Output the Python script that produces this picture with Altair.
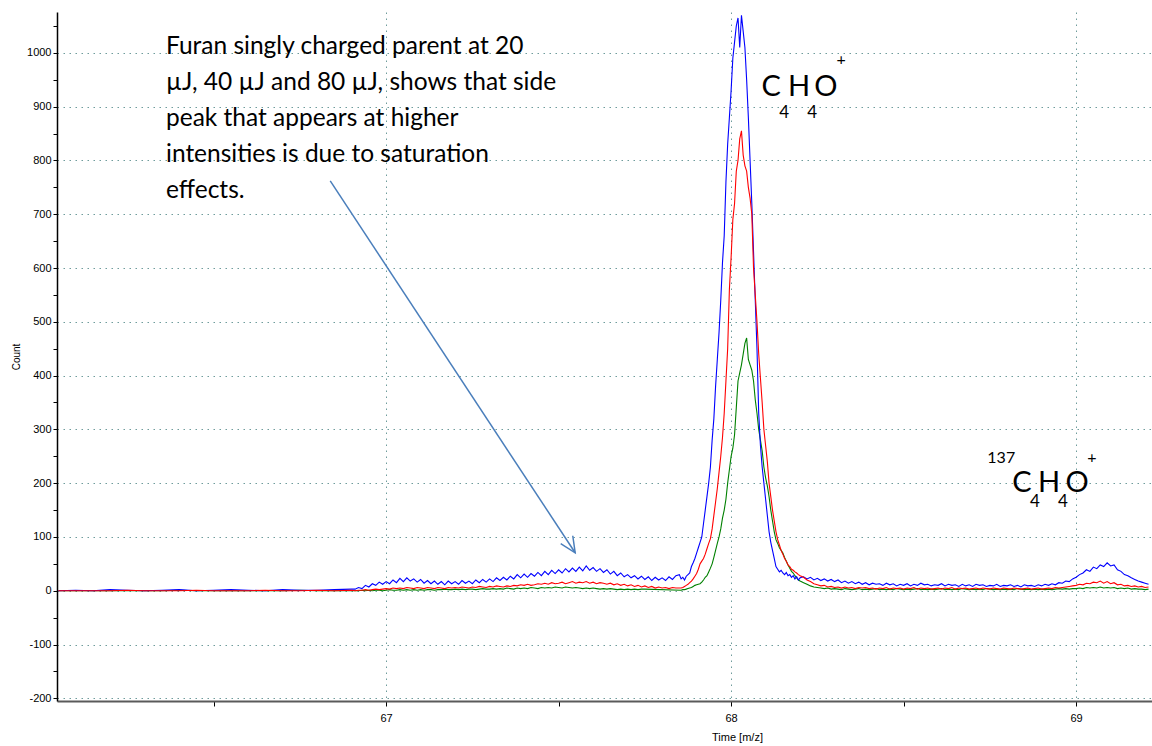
import altair as alt
import pandas as pd

# ---------------- data ----------------
# sampling grids (start m/z, step) of four regions
R1_START, R1_STEP = 66.05, 0.05
R2_START, R2_STEP = 66.91, 0.01
R3_START, R3_STEP = 67.855, 0.005
R4_START, R4_STEP = 68.21, 0.01

# 80 uJ (blue)
BLUE_R1 = [0, 1, 0, 2, 1, 0, 1, 2, 0, 1, 2, 1, 0, 2, 1, 1, 2, 3]
BLUE_R2 = [3, 6, 4, 10, 7, 13, 10, 16, 12,
           17, 13, 20, 15, 23, 17, 24, 18, 22, 16,
           21, 14, 19, 13, 18, 12, 17, 11, 18, 13,
           17, 12, 19, 14, 18, 13, 20, 15, 21, 16,
           22, 17, 24, 19, 25, 20, 27, 22, 30, 24,
           31, 25, 32, 27, 34, 28, 36, 30, 38, 32,
           39, 33, 41, 35, 42, 36, 44, 37, 46, 38,
           43, 36, 41, 34, 39, 31, 36, 28, 33, 26,
           30, 24, 28, 22, 27, 21, 26, 19, 25, 20,
           24, 19, 26, 21, 28, 30]
BLUE_R3 = [22, 25, 20, 27, 30, 33, 45, 52, 60, 70,
           80, 90, 100, 125, 150, 175, 200, 230, 280, 320,
           380, 430, 480, 540, 610, 660, 760, 830, 880, 930,
           990, 1020, 1050, 1065, 1010, 1070, 1040, 1010, 950, 880,
           800, 720, 630, 540, 450, 330, 270, 230, 200, 170,
           140, 110, 90, 75, 60, 45, 40, 35, 38, 33,
           30, 34, 28, 30, 25, 28, 22, 26, 20, 24]
BLUE_R4 = [26, 22, 25, 20, 23, 19, 22, 18, 21, 17,
           20, 15, 18, 14, 17, 13, 16, 12, 15, 11,
           14, 12, 13, 10, 14, 11, 13, 9, 12, 10,
           13, 9, 12, 10, 14, 11, 12, 9, 11, 10,
           13, 9, 12, 10, 11, 8, 12, 9, 11, 8,
           12, 10, 11, 8, 10, 9, 12, 8, 10, 9,
           11, 8, 10, 7, 11, 9, 10, 8, 11, 9,
           12, 10, 13, 11, 15, 14, 18, 17, 22, 25,
           30, 33, 39, 36, 44, 41, 48, 45, 52, 46,
           48, 39, 36, 30, 28, 24, 21, 18, 16, 14,
           12]

# 40 uJ (red)
RED_R1 = [0, 0, 0, 0, 1, 0, 0, 0, 1, 0, 0, 0, 1, 0, 0, 1, 0, 1]
RED_R2 = [0, 1, 1, 2, 1, 2, 3, 2, 3,
          4, 3, 5, 4, 5, 4, 6, 5, 4, 6,
          5, 4, 6, 5, 4, 6, 5, 4, 6, 5,
          6, 5, 7, 6, 5, 7, 6, 8, 7, 6,
          8, 7, 9, 8, 7, 9, 8, 10, 9, 11,
          10, 12, 10, 11, 13, 12, 14, 12, 15, 13,
          14, 16, 13, 15, 17, 14, 16, 15, 17, 14,
          16, 13, 15, 14, 12, 14, 11, 13, 10, 12,
          9, 11, 8, 10, 7, 9, 6, 8, 5, 7,
          5, 6, 4, 6, 5, 5]
RED_R3 = [5, 6, 8, 10, 12, 15, 18, 22, 27, 32,
          40, 50, 55, 60, 68, 78, 88, 97, 115, 140,
          165, 190, 220, 250, 285, 330, 390, 450, 560, 620,
          690, 720, 780, 800, 840, 855, 810, 790, 780, 750,
          730, 700, 600, 550, 500, 440, 395, 350, 300, 270,
          240, 200, 175, 150, 130, 110, 95, 85, 75, 68,
          60, 55, 48, 45, 40, 38, 35, 33, 30, 28]
RED_R4 = [25, 20, 17, 13, 11, 9, 10, 7, 8, 6,
          7, 5, 7, 5, 6, 4, 6, 5, 6, 4,
          5, 3, 5, 4, 6, 3, 5, 4, 5, 3,
          5, 4, 6, 3, 5, 4, 5, 3, 4, 5,
          3, 5, 4, 6, 3, 5, 4, 5, 3, 4,
          5, 3, 5, 4, 3, 5, 4, 3, 5, 4,
          3, 5, 4, 3, 4, 5, 3, 4, 5, 3,
          4, 5, 4, 6, 5, 6, 7, 8, 9, 10,
          12, 11, 14, 13, 16, 15, 18, 14, 17, 13,
          15, 11, 12, 9, 10, 8, 9, 7, 8, 6,
          7]

# 20 uJ (green)
GREEN_R1 = [0, 0, 0, 0, 0, 0, 0, 1, 0, 0, 0, 0, 0, 0, 1, 0, 0, 0]
GREEN_R2 = [0, 0, 1, 0, 1, 0, 1, 1, 0,
            1, 2, 1, 1, 2, 1, 2, 1, 2, 1,
            2, 1, 2, 2, 1, 2, 2, 3, 2, 2,
            3, 2, 3, 2, 3, 3, 2, 3, 4, 3,
            3, 4, 3, 4, 3, 5, 4, 3, 5, 4,
            5, 4, 6, 5, 4, 6, 5, 6, 5, 7,
            6, 5, 7, 6, 5, 6, 5, 4, 5, 4,
            5, 4, 3, 4, 3, 4, 3, 2, 3, 2,
            3, 2, 3, 2, 3, 3]
GREEN_R3 = [1, 2, 2, 3, 4, 5, 6, 8, 10, 11,
            12, 13, 16, 20, 25, 28, 35, 42, 50, 62,
            75, 88, 100, 115, 135, 150, 170, 200, 225, 250,
            265, 290, 340, 390, 405, 420, 440, 460, 470, 430,
            420, 410, 390, 355, 330, 300, 280, 260, 230, 210,
            195, 175, 150, 130, 110, 95, 88, 80, 75, 70,
            62, 55, 48, 42, 36, 33, 28, 24, 20, 18]
GREEN_R4 = [15, 12, 9, 7, 6, 5, 4, 5, 3, 4,
            3, 2, 4, 3, 2, 3, 4, 2, 3, 2,
            3, 4, 2, 3, 2, 3, 2, 4, 3, 2,
            3, 2, 3, 4, 2, 3, 2, 3, 2, 3,
            4, 2, 3, 2, 3, 2, 4, 3, 2, 3,
            2, 3, 2, 4, 3, 2, 3, 2, 3, 2,
            3, 2, 4, 3, 2, 3, 2, 3, 2, 3,
            2, 3, 2, 3, 4, 3, 4, 3, 4, 4,
            5, 4, 6, 5, 6, 5, 7, 5, 6, 5,
            6, 4, 5, 4, 5, 3, 4, 3, 3, 2,
            3]

SERIES = ["80 µJ", "40 µJ", "20 µJ"]
COLORS = ["#0000ff", "#ff0000", "#008000"]
DRAW_ORDER = ["20 µJ", "80 µJ", "40 µJ"]

X_TICKS = [66.5, 67, 67.5, 68, 68.5, 69]
Y_TICKS = [-200, -150, -100, -50, 0, 50, 100, 150, 200, 250, 300, 350, 400,
           450, 500, 550, 600, 650, 700, 750, 800, 850, 900, 950, 1000, 1050]

NOTE = ("Furan singly charged parent at 20\n"
        "µJ, 40 µJ and 80 µJ, shows that side\n"
        "peak that appears at higher\n"
        "intensities is due to saturation\n"
        "effects.")
NOTE_POS = [66.362, 998]

# formula labels: text, m/z, count, font size
LABEL_TEXT = ["C", "H", "O", "4", "4", "+",
              "137", "C", "H", "O", "4", "4", "+"]
LABEL_MZ = [68.116, 68.197, 68.275, 68.154, 68.235, 68.319,
            68.783, 68.843, 68.922, 69.003, 68.881, 68.962, 69.046]
LABEL_CT = [920, 920, 920, 879, 879, 977,
            238, 184, 184, 184, 156, 156, 237]
LABEL_SIZE = [29, 29, 29, 17, 17, 16,
              16, 29, 29, 29, 17, 17, 16]

# arrow: shaft start -> tip, and head (arm, tip, arm)
ARROW_MZ = [66.838, 67.548]
ARROW_CT = [762, 70.6]
HEAD_MZ = [67.506, 67.548, 67.541]
HEAD_CT = [87.4, 70.6, 102.2]

# ---------------- build tables ----------------
def grid(start, step, n):
    return [round(start + step * i, 4) for i in range(n)]

regions = [
    (R1_START, R1_STEP, BLUE_R1, RED_R1, GREEN_R1),
    (R2_START, R2_STEP, BLUE_R2, RED_R2, GREEN_R2),
    (R3_START, R3_STEP, BLUE_R3, RED_R3, GREEN_R3),
    (R4_START, R4_STEP, BLUE_R4, RED_R4, GREEN_R4),
]
frames = {s: [] for s in SERIES}
for start, step, b, r, g in regions:
    for name, vals in zip(SERIES, (b, r, g)):
        xs = grid(start, step, len(vals))
        frames[name].extend(zip(xs, vals))

x_scale = alt.Scale(domain=[66.046, 69.220], nice=False, zero=False)
y_scale = alt.Scale(domain=[-205, 1076], nice=False, zero=False)

x_axis = alt.Axis(
    values=X_TICKS,
    labelExpr="datum.value % 1 === 0 ? '' + datum.value : ''",
    grid=True, gridDash=[1.5, 4.5], gridColor="#6f9c9c", gridWidth=1,
    gridOpacity={"condition": {"test": "datum.value % 1 !== 0", "value": 0}, "value": 1},
    tickSize=5, tickColor="#000000", domainColor="#5a5a5a", domainWidth=2,
    labelFont="Liberation Sans", labelFontSize=11, labelColor="#000000", labelPadding=6,
    title="Time [m/z]", titleFont="Liberation Sans", titleFontSize=11,
    titleFontWeight="normal", titleColor="#000000",
    titleX=680, titleY=36, titleAlign="center", titleBaseline="middle",
)
y_axis = alt.Axis(
    values=Y_TICKS,
    labelExpr="datum.value % 100 === 0 ? '' + datum.value : ''",
    grid=True, gridDash=[1.5, 4.5], gridColor="#6f9c9c", gridWidth=1,
    gridOpacity={"condition": {"test": "datum.value % 100 !== 0", "value": 0}, "value": 1},
    tickSize=4, tickColor="#000000", domainColor="#000000", domainWidth=1.5,
    labelFont="Liberation Sans", labelFontSize=11, labelColor="#000000", labelPadding=2,
    title="Count", titleFont="Liberation Sans", titleFontSize=10,
    titleFontWeight="normal", titleColor="#000000", titlePadding=5,
)

X = alt.X("mz:Q", scale=x_scale, axis=x_axis)
Y = alt.Y("count:Q", scale=y_scale, axis=y_axis)

color_of = dict(zip(SERIES, COLORS))
layers = []
for name in DRAW_ORDER:
    df = pd.DataFrame(frames[name], columns=["mz", "count"])
    layers.append(
        alt.Chart(df).mark_line(color=color_of[name], strokeWidth=1.1, clip=True)
        .encode(x=X, y=Y)
    )

note_df = pd.DataFrame({"mz": [NOTE_POS[0]], "count": [NOTE_POS[1]], "text": [NOTE]})
note = alt.Chart(note_df).mark_text(
    align="left", baseline="alphabetic", font="Lato", fontSize=24.5,
    lineHeight=36, lineBreak="\n", color="#000000"
).encode(x=X, y=Y, text="text:N")

lab_df = pd.DataFrame({"mz": LABEL_MZ, "count": LABEL_CT,
                       "text": LABEL_TEXT, "size": LABEL_SIZE})
labels = alt.Chart(lab_df).mark_text(
    align="center", baseline="alphabetic", font="Lato", color="#000000"
).encode(x=X, y=Y, text="text:N", size=alt.Size("size:Q", scale=None))

arrow_df = pd.DataFrame({"mz": ARROW_MZ, "count": ARROW_CT, "o": [0, 1]})
arrow = alt.Chart(arrow_df).mark_line(color="#4a7ebb", strokeWidth=1.5).encode(
    x=X, y=Y, order="o:Q")
head_df = pd.DataFrame({"mz": HEAD_MZ, "count": HEAD_CT, "o": [0, 1, 2]})
head = alt.Chart(head_df).mark_line(color="#4a7ebb", strokeWidth=1.5).encode(
    x=X, y=Y, order="o:Q")

chart = alt.layer(*layers, arrow, head, note, labels).properties(
    width=1095, height=689,
    autosize=alt.AutoSizeParams(type="none"),
    padding={"left": 57, "top": 12, "right": 0, "bottom": 45},
    background="#ffffff",
).configure_view(stroke=None)

chart.save("out.html", embed_options={"renderer": "svg", "actions": False})
